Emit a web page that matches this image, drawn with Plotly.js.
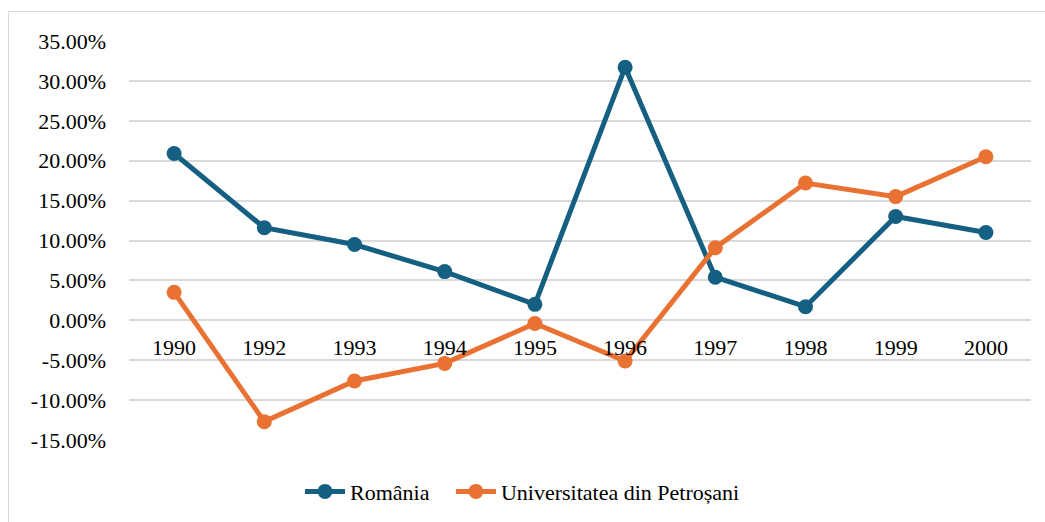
<!DOCTYPE html>
<html>
<head>
<meta charset="utf-8">
<script src="https://cdn.plot.ly/plotly-3.0.1.min.js"></script>
<style>
html,body{margin:0;padding:0;background:#fff;font-family:'Liberation Serif';}
#wrap{position:relative;width:1045px;height:522px;}
#chart{position:absolute;left:0;top:0;width:1045px;height:522px;}
#chart svg text{font-family:'Liberation Serif' !important;}
#frame{position:absolute;left:8px;top:11px;width:1045px;height:520px;border-left:1.5px solid #d9d9d9;border-top:1.5px solid #d9d9d9;pointer-events:none;}
</style>
</head>
<body>
<div id="wrap"><div id="chart"></div><div id="frame"></div></div>
<script>
const years = ['1990','1992','1993','1994','1995','1996','1997','1998','1999','2000'];
const romania = [0.209, 0.116, 0.095, 0.061, 0.020, 0.317, 0.054, 0.017, 0.130, 0.110];
const upet = [0.035, -0.127, -0.076, -0.054, -0.004, -0.051, 0.091, 0.172, 0.155, 0.205];
const yTicks = [-0.15,-0.10,-0.05,0,0.05,0.10,0.15,0.20,0.25,0.30,0.35];
const yTickText = ['-15.00%','-10.00%','-5.00%','0.00%','5.00%','10.00%','15.00%','20.00%','25.00%','30.00%','35.00%'];
const seriesNames = ['România\u00a0\u00a0\u00a0', 'Universitatea din Petroșani'];

const fontFam = 'Liberation Serif';
const traces = [
  {x: years, y: romania, name: seriesNames[0], type: 'scatter', mode: 'lines+markers',
   line: {color: '#156082', width: 5}, marker: {color: '#156082', size: 15}},
  {x: years, y: upet, name: seriesNames[1], type: 'scatter', mode: 'lines+markers',
   line: {color: '#E97132', width: 5}, marker: {color: '#E97132', size: 15}}
];
const layout = {
  width: 1045, height: 522,
  margin: {l: 129, r: 14, t: 41, b: 82},
  paper_bgcolor: 'rgba(0,0,0,0)', plot_bgcolor: 'rgba(0,0,0,0)',
  font: {family: fontFam, size: 22, color: '#000'},
  showlegend: true,
  legend: {orientation: 'h', xref: 'container', x: 0.5, xanchor: 'center', y: 0.018, yanchor: 'bottom', yref: 'container',
           font: {family: fontFam, size: 22, color: '#000'}, itemwidth: 40},
  xaxis: {type: 'category', range: [-0.5, 9.5], showgrid: false, zeroline: false, showline: false, ticks: '',
          anchor: 'free', position: 0.3, ticklabelstandoff: 12, fixedrange: true,
          tickfont: {family: fontFam, size: 22, color: '#000'}},
  yaxis: {range: [-0.15, 0.35], tickvals: yTicks, ticktext: yTickText, showgrid: true, gridcolor: '#d9d9d9', gridwidth: 1.5,
          zeroline: false, showline: false, ticks: '', ticklabelstandoff: 22, fixedrange: true,
          tickfont: {family: fontFam, size: 22, color: '#000'}}
};
function fixFonts(){
  document.querySelectorAll('#chart svg text, #chart svg tspan').forEach(function(t){
    t.style.setProperty('font-family', "'Liberation Serif'", 'important');
    t.setAttribute('font-family', 'Liberation Serif');
  });
}
Plotly.newPlot('chart', traces, layout, {displayModeBar: false}).then(fixFonts);
</script>
</body>
</html>
